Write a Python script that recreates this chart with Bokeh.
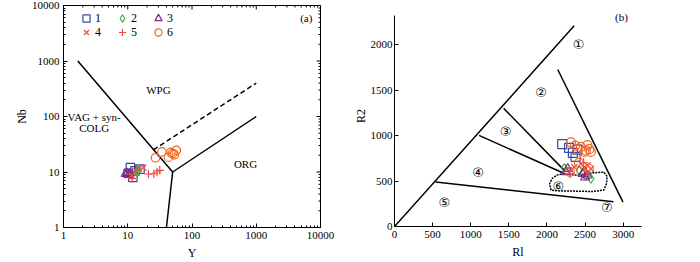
import math
from bokeh.plotting import figure
from bokeh.layouts import row, column
from bokeh.models import Legend, LegendItem, FixedTicker, Label
from bokeh.core.properties import value
from bokeh.embed import file_html
from bokeh.resources import INLINE

FONT = "Liberation Serif"

# ---------------- data: panel (a) Y vs Nb ----------------
a1_y = [11.0, 12.0, 15.5, 10.2, 13.0]
a1_nb = [12.0, 8.0, 11.3, 9.5, 10.5]
a2_y = [13.8, 14.8, 14.2]
a2_nb = [9.8, 11.0, 10.4]
a3_y = [9.2, 10.3, 9.8, 10.8]
a3_nb = [9.2, 9.0, 9.6, 9.4]
a4_y = [13.2, 17.5, 11.5, 15.0]
a4_nb = [10.6, 12.0, 8.8, 11.5]
a5_y = [11.7, 21.0, 25.5, 28.5, 31.5]
a5_nb = [7.6, 9.2, 9.3, 10.0, 10.7]
a6_y = [27, 34, 43, 47, 50, 53, 57]
a6_nb = [18, 23, 18.5, 22.5, 21.5, 20.5, 24.5]

# boundaries (Pearce et al. 1984)
bnd1_y = [1.67, 50, 1000]
bnd1_nb = [1000, 10, 100]
bnd2_y = [50, 40]
bnd2_nb = [10, 1]
bnd3_y = [25, 1000]
bnd3_nb = [25, 400]

log_ticks = [1, 10, 100, 1000, 10000]
log_labels = ["1", "10", "100", "1000", "10000"]

# ---------------- data: panel (b) R1 vs R2 ----------------
b1_r1 = [2200, 2290, 2340, 2375, 2400]
b1_r2 = [905, 865, 810, 765, 845]
b2_r1 = [2228, 2423, 2576, 2510]
b2_r2 = [642, 617, 525, 560]
b3_r1 = [2272, 2467, 2532, 2488, 2250, 2500]
b3_r2 = [635, 580, 562, 606, 600, 540]
b4_r1 = [2445, 2358, 2532, 2315, 2576]
b4_r2 = [690, 653, 672, 617, 635]
b5_r1 = [2480, 2300, 2520]
b5_r2 = [700, 580, 610]
b6_r1 = [2315, 2370, 2400, 2445, 2490, 2530, 2555, 2510, 2575, 2300, 2550, 2420]
b6_r2 = [925, 890, 850, 875, 820, 895, 850, 835, 820, 600, 635, 700]

lineA_r1 = [0, 2357]
lineA_r2 = [0, 2206]
lineB_r1 = [539, 2872]
lineB_r2 = [488, 272]
lineC_r1 = [1431, 2227]
lineC_r2 = [1300, 617]
lineD_r1 = [1109, 2206]
lineD_r2 = [1002, 591]
lineE_r1 = [2141, 2997]
lineE_r2 = [1726, 268]
curve_r1 = [2206, 2300, 2445, 2600, 2745, 2790, 2780, 2745, 2600, 2354, 2150, 2053, 2035, 2070, 2130, 2206]
curve_r2 = [580, 570, 562, 590, 598, 550, 470, 400, 385, 389, 392, 400, 470, 530, 565, 580]

lin_ticks_x = [0, 500, 1000, 1500, 2000, 2500, 3000]
lin_ticks_y = [0, 500, 1000, 1500, 2000]

groups = ["1", "2", "3", "4", "5", "6"]
markers = ["square", "diamond", "triangle", "x", "cross", "circle"]
colors = ["#3b48a3", "#3db04b", "#7b2a82", "#ee4b3e", "#f04848", "#f26522"]


def style_axis(ax):
    ax.axis_line_color = "black"
    ax.major_tick_in = 4
    ax.major_tick_out = 0
    ax.minor_tick_in = 2
    ax.minor_tick_out = 0
    ax.major_tick_line_color = "black"
    ax.minor_tick_line_color = "black"
    ax.major_label_text_font = FONT
    ax.major_label_text_font_size = "11px"
    ax.major_label_text_color = "black"
    ax.major_label_standoff = 4
    ax.axis_label_text_font = FONT
    ax.axis_label_text_font_size = "12px"
    ax.axis_label_text_font_style = "normal"
    ax.axis_label_text_color = "black"


# ---------------- panel (a) ----------------
p1 = figure(width=350, height=262, x_axis_type="log", y_axis_type="log",
            x_range=(1, 10000), y_range=(1, 10000),
            output_backend="svg", toolbar_location=None,
            min_border_left=63, min_border_right=30,
            min_border_top=5, min_border_bottom=35)
p1.grid.visible = False
p1.outline_line_color = "black"
p1.outline_line_width = 1

overrides = dict(zip(log_ticks, log_labels))
for ax in (p1.xaxis[0], p1.yaxis[0]):
    style_axis(ax)
    ax.major_label_overrides = overrides
p1.xaxis.axis_label = "Y"
p1.yaxis.axis_label = "Nb"
p1.xaxis.axis_label_standoff = 4
p1.yaxis.axis_label_standoff = 0

# inward ticks on the top and right edges of the frame (half of each dash is clipped)
minor_pos = [m * 10 ** d for d in range(4) for m in range(2, 10)]
top_edge = [log_ticks[-1]] * len(log_ticks)
p1.scatter(log_ticks, top_edge, marker="dash", size=8, angle=math.pi / 2, line_color="black")
p1.scatter(minor_pos, [log_ticks[-1]] * len(minor_pos), marker="dash", size=4,
           angle=math.pi / 2, line_color="black")
p1.scatter(top_edge, log_ticks, marker="dash", size=8, line_color="black")
p1.scatter([log_ticks[-1]] * len(minor_pos), minor_pos, marker="dash", size=4, line_color="black")

p1.line(bnd1_y, bnd1_nb, line_color="black", line_width=1.5)
p1.line(bnd2_y, bnd2_nb, line_color="black", line_width=1.5)
p1.line(bnd3_y, bnd3_nb, line_color="black", line_width=1.5, line_dash="5 3")

a_sets = [(a1_y, a1_nb), (a2_y, a2_nb), (a3_y, a3_nb), (a4_y, a4_nb), (a5_y, a5_nb), (a6_y, a6_nb)]
items = []
for (xs, ys), g, m, c in zip(a_sets, groups, markers, colors):
    r = p1.scatter(xs, ys, marker=m, size=8.5, fill_color=None, line_color=c, line_width=1.2)
    items.append(LegendItem(label=g, renderers=[r]))

leg_kw = dict(orientation="horizontal", border_line_color=None, background_fill_alpha=0,
              padding=0, margin=0, spacing=0, glyph_width=18, glyph_height=18,
              label_standoff=0, label_width=18, label_height=12,
              label_text_font=FONT, label_text_font_size="12px", label_text_color="black")
p1.add_layout(Legend(items=items[:3], location=(14, 200), **leg_kw))
p1.add_layout(Legend(items=items[3:], location=(14, 186), **leg_kw))

txt_kw = dict(text_font=value(FONT), text_font_size="11px", text_color="black",
              text_align="center", text_baseline="middle")
p1.text(x=[30], y=[295], text=["WPG"], **txt_kw)
p1.text(x=[3.0], y=[96], text=["VAG + syn-"], **txt_kw)
p1.text(x=[3.0], y=[61], text=["COLG"], **txt_kw)
p1.text(x=[680], y=[14], text=["ORG"], **txt_kw)
p1.text(x=[6000], y=[6000], text=["(a)"], **txt_kw)

# ---------------- panel (b) ----------------
p2 = figure(width=350, height=262, x_range=(0, 3240), y_range=(0, 2430),
            output_backend="svg", toolbar_location=None,
            min_border_left=43, min_border_right=59,
            min_border_top=5, min_border_bottom=36)
p2.grid.visible = False
p2.outline_line_color = None
for ax in (p2.xaxis[0], p2.yaxis[0]):
    style_axis(ax)
    ax.minor_tick_in = 0
p2.yaxis.major_label_standoff = 2
p2.yaxis.bounds = (0, 2320)
p2.xaxis.ticker = FixedTicker(ticks=lin_ticks_x)
p2.yaxis.ticker = FixedTicker(ticks=lin_ticks_y)
p2.xaxis.axis_label = "Rl"
p2.yaxis.axis_label = "R2"
p2.xaxis.axis_label_standoff = 4
p2.yaxis.axis_label_standoff = 0

for xs, ys in [(lineA_r1, lineA_r2), (lineB_r1, lineB_r2), (lineC_r1, lineC_r2),
               (lineD_r1, lineD_r2), (lineE_r1, lineE_r2)]:
    p2.line(xs, ys, line_color="black", line_width=1.5)
p2.line(curve_r1, curve_r2, line_color="black", line_width=1.5, line_dash="2 1")

b_sets = [(b1_r1, b1_r2), (b2_r1, b2_r2), (b3_r1, b3_r2), (b4_r1, b4_r2), (b5_r1, b5_r2), (b6_r1, b6_r2)]
for (xs, ys), m, c in zip(b_sets, markers, colors):
    p2.scatter(xs, ys, marker=m, size=9, fill_color=None, line_color=c, line_width=1.2)

circ_kw = dict(text_font=value("DejaVu Sans"), text_font_size="13px", text_color="black",
               text_align="center", text_baseline="middle")
p2.text(x=[2414, 1923, 1457, 1096, 653, 2150, 2785],
        y=[2000, 1468, 1046, 591, 268, 444, 206],
        text=["①", "②", "③", "④", "⑤", "⑥", "⑦"], **circ_kw)
p2.add_layout(Label(x=2977, y=2305, text="(b)", text_font=FONT, text_font_size="11px",
                    text_color="black", text_align="center", text_baseline="middle"))

layout = row(column(p1), column(p2))
open("out.html", "w").write(file_html(layout, INLINE))
